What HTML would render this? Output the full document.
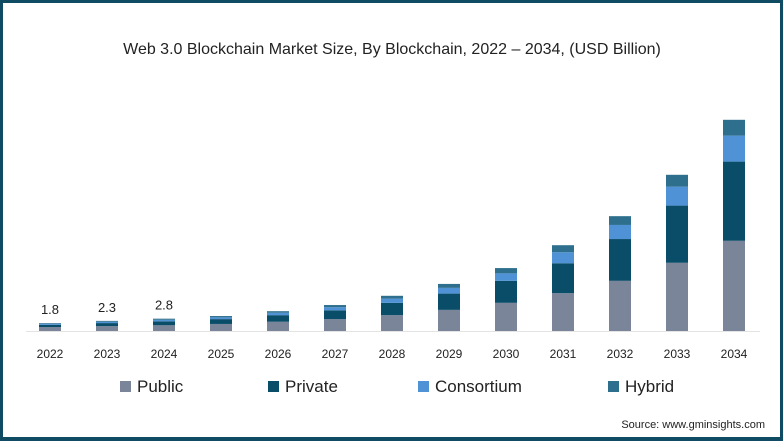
<!DOCTYPE html>
<html><head><meta charset="utf-8"><style>
html,body{margin:0;padding:0;background:#fff}
#wrap{position:relative;width:783px;height:441px;box-sizing:border-box;border:3px solid #0f4c63;border-bottom-width:4px;font-family:"Liberation Sans",sans-serif;overflow:hidden}
</style></head><body>
<div id="wrap">
<svg id="chart" width="777" height="434" style="position:absolute;left:0;top:0">
<text x="389" y="51" text-anchor="middle" font-size="16" fill="#222">Web 3.0 Blockchain Market Size, By Blockchain, 2022 – 2034, (USD Billion)</text>
<line x1="23" x2="757" y1="328.5" y2="328.5" stroke="#e4e4e4"/>
<g id="bars"></g>
<g id="legend"></g>
<text x="762" y="425" text-anchor="end" font-size="11" fill="#222">Source: www.gminsights.com</text>
</svg>
</div>
<script>
const years=["2022","2023","2024","2025","2026","2027","2028","2029","2030","2031","2032","2033","2034"];
const publicV=[0.9,1.1,1.3,1.6,2.1,2.7,3.6,4.8,6.4,8.6,11.4,15.5,20.5];
const privateV=[0.5,0.7,0.9,1.1,1.5,2.0,2.8,3.7,5.0,6.8,9.5,13.0,18.0];
const consortiumV=[0.25,0.3,0.35,0.4,0.55,0.7,0.95,1.3,1.7,2.5,3.2,4.3,5.9];
const hybridV=[0.15,0.2,0.25,0.3,0.35,0.5,0.65,0.9,1.2,1.6,2.0,2.7,3.6];
const labels=["1.8","2.3","2.8","","","","","","","","","",""];
const seriesNames=["Public","Private","Consortium","Hybrid"];
const colors=["#7a8599","#0a4d68","#4f93d6","#2e6f8e"];
const series=[publicV,privateV,consortiumV,hybridV];
const NS="http://www.w3.org/2000/svg";
const base=328, pxPer=4.4, x0=47, step=57, bw=22;
const yS=v=>v*pxPer, xS=i=>x0+i*step;
const g=document.getElementById('bars');
years.forEach((yr,i)=>{
  let y=base;
  series.forEach((s,k)=>{
    const h=yS(s[i]); y-=h;
    const r=document.createElementNS(NS,'rect');
    r.setAttribute('x',xS(i)-bw/2);r.setAttribute('y',y);r.setAttribute('width',bw);r.setAttribute('height',h);r.setAttribute('fill',colors[k]);
    
    
    g.appendChild(r);
  });
  const t=document.createElementNS(NS,'text');
  t.setAttribute('x',xS(i));t.setAttribute('y',355);t.setAttribute('text-anchor','middle');t.setAttribute('font-size','12');t.setAttribute('fill','#222');
  t.textContent=yr;
  
  
  g.appendChild(t);
  if(labels[i]){
    const l=document.createElementNS(NS,'text');
    l.setAttribute('x',xS(i));l.setAttribute('y',y-9);l.setAttribute('text-anchor','middle');l.setAttribute('font-size','13');l.setAttribute('fill','#222');
    l.textContent=labels[i];
    
    
    g.appendChild(l);
  }
});
const lg=document.getElementById('legend');
const lx=[117,265,415,605];
seriesNames.forEach((n,k)=>{
  const r=document.createElementNS(NS,'rect');
  r.setAttribute('x',lx[k]);r.setAttribute('y',378);r.setAttribute('width',11);r.setAttribute('height',11);r.setAttribute('fill',colors[k]);
  
  
  lg.appendChild(r);
  const t=document.createElementNS(NS,'text');
  t.setAttribute('x',lx[k]+17);t.setAttribute('y',389);t.setAttribute('font-size','17');t.setAttribute('fill','#222');
  t.textContent=n;
  
  
  lg.appendChild(t);
});
</script>
</body></html>
